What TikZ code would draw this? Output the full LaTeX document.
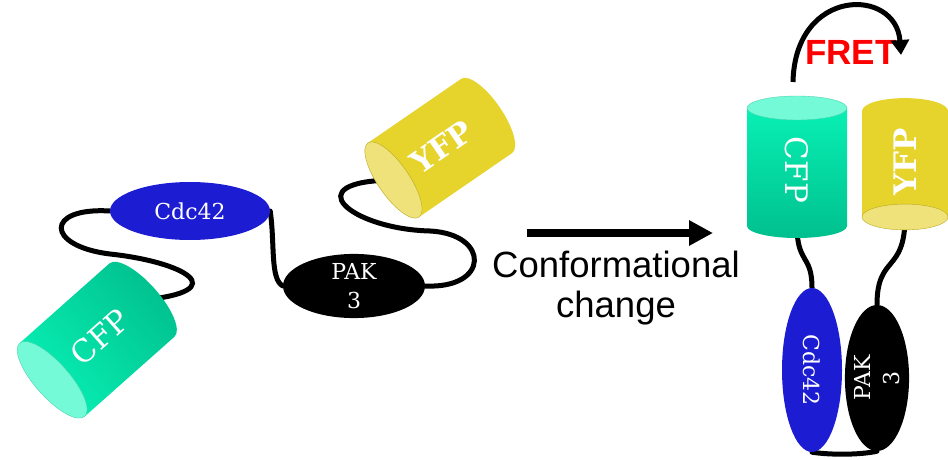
\documentclass[tikz,border=0pt]{standalone}
\usepackage{fontspec}
\setmainfont{Liberation Sans}
\newfontfamily\protfont{DejaVu Serif}
\usetikzlibrary{positioning,shapes.geometric,arrows.meta,backgrounds}

\definecolor{cdcblue}{HTML}{1C1CD2}
\definecolor{cfplight}{HTML}{08F0B4}
\definecolor{cfpdark}{HTML}{00C08E}
\definecolor{cfpcap}{HTML}{74FAD6}
\definecolor{yfpmain}{HTML}{E6D32C}
\definecolor{yfpcap}{HTML}{F0E27A}
\definecolor{fretred}{HTML}{FF0000}

\tikzset{
  linker/.style={line width=5pt, line cap=round},
  dom/.style={ellipse, inner sep=0pt, text=white, align=center,
    font=\protfont\fontsize{22}{29}\selectfont},
  fp/.style={text=white, font=\protfont\fontsize{31}{31}\selectfont},
  cfpbody/.style={left color=cfplight, right color=cfpdark},
  cfpface/.style={fill=cfpcap, draw=cfpdark!70, line width=0.4pt},
  yfpbody/.style={left color=yfpmain, right color=yfpmain},
  yfpface/.style={fill=yfpcap, draw=yfpmain!80!black, line width=0.4pt},
}

% barrel: name, centre, angle, length, radius, face aspect, colour
\newcommand{\tube}[7]{%
  \begin{scope}[shift={#2},rotate=#3]
    \pgfmathsetmacro\shadeang{90+#3}
    \shade[#7body, shading angle=\shadeang] (-#4/2,-#5) -- (#4/2,-#5)
      arc[start angle=-90,end angle=90,x radius=#6*#5,y radius=#5]
      -- (-#4/2,#5) -- cycle;
    \filldraw[#7face] (-#4/2,0) ellipse[x radius=#6*#5,y radius=#5];
    \coordinate (#1-face) at (-#4/2,0);
    \coordinate (#1-end) at (#4/2,0);
  \end{scope}}

\begin{document}
\begin{tikzpicture}[x=1pt,y=1pt]
\useasboundingbox (0,0) rectangle (948,459);
% open form
\tube{cfpA}{(97,119)}{41.6}{120}{49}{0.35}{cfp}
\tube{yfpA}{(440,311)}{34.5}{113}{45}{0.35}{yfp}
\node[fp, rotate=41.6] (cfpL) at (100,122) {CFP};
\node[fp, rotate=34.5] (yfpL) at (442,312) {\bfseries YFP};
\node[dom, fill=cdcblue, minimum width=160pt, minimum height=58pt] (cdcL) at (190,248) {Cdc42};
\node[dom, fill=black, minimum width=142pt, minimum height=62pt] (pakL) at (354,173) {PAK\\3};
\begin{scope}[on background layer]
  \draw[linker] (cdcL.west) .. controls (45,252) and (45,213) .. (110,205)
    .. controls (185,197) and (235,168) .. (cfpA-end);
  \draw[linker] (cdcL.east) .. controls (275,215) and (270,180) .. (pakL.west);
  \draw[linker] (pakL.east) .. controls (490,170) and (490,225) .. (430,228)
    .. controls (350,230) and (295,278) .. (yfpA-face);
\end{scope}

% arrow
\coordinate (arrS) at (527,226);
\coordinate (arrE) at (713,226);
\draw[line width=8pt,-{Triangle[length=24pt,width=24pt]}] (arrS) -- (arrE);
\node[font=\fontsize{36.5}{40}\selectfont, align=center, inner sep=0pt, anchor=north]
  (conf) at (616,208) {Conformational\\change};

% closed form
\tube{cfpB}{(797,292)}{-90}{118}{50}{0.24}{cfp}
\tube{yfpB}{(905,295)}{90}{106}{43}{0.3}{yfp}
\node[fp, rotate=-90] (cfpR) at (797,289) {CFP};
\node[fp, rotate=90] (yfpR) at (905,297) {\bfseries YFP};
\node[dom, fill=cdcblue, rotate=-90, minimum width=164pt, minimum height=60pt] (cdcR) at (812,89) {Cdc42};
\node[dom, fill=black, rotate=90, minimum width=146pt, minimum height=62pt] (pakR) at (877,81) {PAK\\3};
\begin{scope}[on background layer]
  \draw[linker] (cfpB-end) .. controls (797,195) and (812,205) .. (cdcR.west);
  \draw[linker] (yfpB-face) .. controls (905,185) and (877,205) .. (pakR.east);
  \draw[linker] (cdcR.east) .. controls (830,4) and (860,4) .. (pakR.west);
\end{scope}

% energy transfer
\node[text=fretred, font=\bfseries\fontsize{35}{35}\selectfont] (fret) at (851,407) {FRET};
\coordinate (fretS) at (793,377);
\coordinate (fretE) at (901,404);
\draw[line width=5pt,-{Triangle[length=15pt,width=18pt]}] (fretS) .. controls (795,472) and (896,472) .. (fretE);
\end{tikzpicture}
\end{document}
